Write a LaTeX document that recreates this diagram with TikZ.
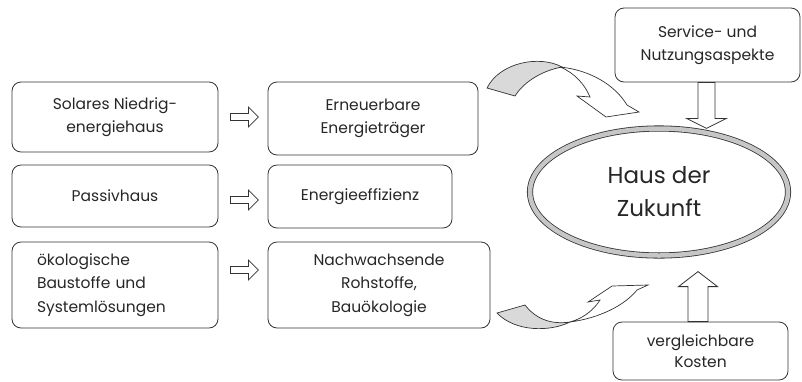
\documentclass[tikz,border=0pt]{standalone}
\usepackage{fontspec}
\setmainfont{Poppins}
\usetikzlibrary{shapes.geometric,calc}
\tikzset{
  pics/blkarrow/.style args={#1/#2/#3/#4}{code={%
    \draw[blk] (0,-#2) -- (#1-#4,-#2) -- (#1-#4,-#3) -- (#1,0) -- (#1-#4,#3) -- (#1-#4,#2) -- (0,#2) -- cycle;}},
}
\begin{document}
\begin{tikzpicture}[x=1pt,y=-1pt,
  box/.style={draw=black!80, line width=0.8pt, rounded corners=9pt, align=center,
    inner sep=0pt, text=black!85, font=\fontsize{15.5}{23.5}\selectfont},
  blk/.style={draw=black!80, line width=0.8pt, fill=white},
  ribbon/.style={draw=black!80, line width=0.7pt, fill=white},
  backface/.style={draw=black!80, line width=0.7pt, fill=gray!30},
]
\useasboundingbox (0,0) rectangle (802,381);

% left column
\node[box, minimum width=206pt, minimum height=70pt] (l1) at (115,117) {Solares Niedrig-\\energiehaus};
\node[box, minimum width=206pt, minimum height=62pt] (l2) at (115,196) {Passivhaus};
\node[box, minimum height=86pt, text width=156pt, inner xsep=25pt, align=left] (l3) at (115,285) {ökologische\\Baustoffe und\\Systemlösungen};

% middle column
\node[box, minimum width=210pt, minimum height=73pt] (m1) at (373,118.5) {Erneuerbare\\Energieträger};
\node[box, minimum width=184pt, minimum height=63pt] (m2) at (360,196.5) {Energieeffizienz};
\node[box, minimum width=222pt, minimum height=86pt] (m3) at (379,285) {Nachwachsende\\Rohstoffe,\\Bauökologie};

% right column
\node[box, minimum width=185pt, minimum height=74pt] (svc) at (707.5,45) {Service- und\\Nutzungsaspekte};
\node[box, minimum width=175pt, minimum height=58pt, font=\fontsize{15.5}{21}\selectfont] (cost) at (700.5,351) {vergleichbare\\Kosten};
\node[ellipse, draw=black!80, line width=0.8pt, double=gray!45, double distance=4.5pt,
  minimum width=258pt, minimum height=127pt, align=center, inner sep=0pt,
  text=black!85, font=\fontsize{23}{33}\selectfont] (haus) at (659,192) {Haus der\\Zukunft};

% hollow block arrows
\pic (a1) at ($(l1.east)+(12,0)$) {blkarrow=28/3.5/10/10};
\pic (a2) at ($(l2.east)+(12,4)$) {blkarrow=28/3.5/10/10};
\pic (a3) at ($(l3.east)+(12,-15)$) {blkarrow=28/3.5/10/10};
\pic[rotate=-90] (a4) at ($(svc.south)+(-1,0)$) {blkarrow=46/8.5/20/10};
\pic[rotate=90] (a5) at ($(cost.north)+(-2.5,0)$) {blkarrow=50/10/19.5/15};

% curved arrow top
\draw[ribbon] (560,67) .. controls (590,70) and (615,85) .. (627,105) -- (639,112) -- (606,117)
  -- (577,96) -- (590,97) .. controls (585,85) and (575,73) .. (560,67) -- cycle;
\draw[backface] (487,88) .. controls (500,62) and (540,55) .. (562,67)
  .. controls (545,70) and (525,80) .. (515,96) -- cycle;

% curved arrow bottom
\draw[ribbon] (570,322) .. controls (585,318) and (595,308) .. (600,300) -- (588,302) -- (612,286)
  -- (648,285) -- (637,290) .. controls (625,305) and (600,318) .. (570,322) -- cycle;
\draw[backface] (497,313) -- (525,305) .. controls (535,318) and (550,325) .. (570,322)
  .. controls (550,332) and (515,332) .. (497,313) -- cycle;
\end{tikzpicture}
\end{document}
